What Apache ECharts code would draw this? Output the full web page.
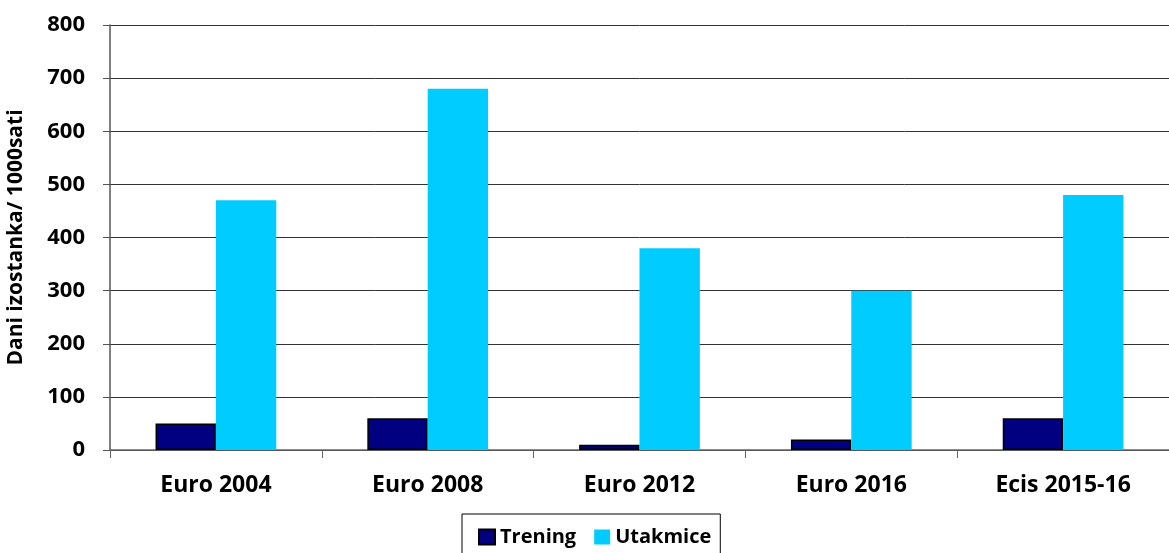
<!DOCTYPE html>
<html><head><meta charset="utf-8">
<script src="https://cdn.jsdelivr.net/npm/echarts@6/dist/echarts.min.js"></script>
<style>html,body{margin:0;padding:0;background:#fff}#c{width:1169px;height:553px}</style>
</head><body><div id="c"></div>
<script>
const categories = ['Euro 2004', 'Euro 2008', 'Euro 2012', 'Euro 2016', 'Ecis 2015-16'];
const trening = [50, 60, 10, 20, 60];
const utakmice = [470, 680, 380, 300, 480];
const yTicks = [0, 100, 200, 300, 400, 500, 600, 700, 800];

const font = '"Open Sans", "DejaVu Sans", sans-serif';
const chart = echarts.init(document.getElementById('c'), null, {renderer: 'canvas'});
chart.setOption({
  animation: false,
  backgroundColor: '#fff',
  textStyle: {fontFamily: font},
  grid: {left: 110, right: 0, top: 25, bottom: 103, containLabel: false, outerBoundsMode: 'none'},
  legend: {
    top: 514, left: 462,
    data: ['Trening', 'Utakmice'],
    itemWidth: 16, itemHeight: 15, itemGap: 18,
    borderColor: '#000', borderWidth: 1, padding: [13, 9, 20, 16],
    icon: 'rect',
    textStyle: {fontFamily: font, fontWeight: 'bold', fontSize: 20, color: '#000'}
  },
  xAxis: {
    type: 'category', data: categories,
    axisLine: {lineStyle: {color: '#666', width: 1.5}},
    axisTick: {show: true, length: 8, lineStyle: {color: '#666'}},
    axisLabel: {fontFamily: font, fontWeight: 'bold', fontSize: 23, color: '#000', margin: 24}
  },
  yAxis: {
    type: 'value', min: 0, max: 800, interval: 100,
    name: 'Dani izostanka/ 1000sati', nameLocation: 'middle', nameGap: 83,
    nameTextStyle: {fontFamily: font, fontWeight: 'bold', fontSize: 21, color: '#000'},
    axisLine: {show: true, lineStyle: {color: '#555', width: 1.5}},
    axisTick: {show: true, length: 7, lineStyle: {color: '#555'}},
    axisLabel: {fontFamily: font, fontWeight: 'bold', fontSize: 22, color: '#000', margin: 25,
      formatter: v => yTicks.includes(v) ? String(v) : ''},
    splitLine: {lineStyle: {color: '#333', width: 1}}
  },
  series: [
    {name: 'Trening', type: 'bar', data: trening, barWidth: '28.5%', barGap: '0%',
     itemStyle: {color: '#000080', borderColor: '#000', borderWidth: 1.5}},
    {name: 'Utakmice', type: 'bar', data: utakmice, barWidth: '28.5%',
     itemStyle: {color: '#00CCFF'}}
  ]
});
</script></body></html>
